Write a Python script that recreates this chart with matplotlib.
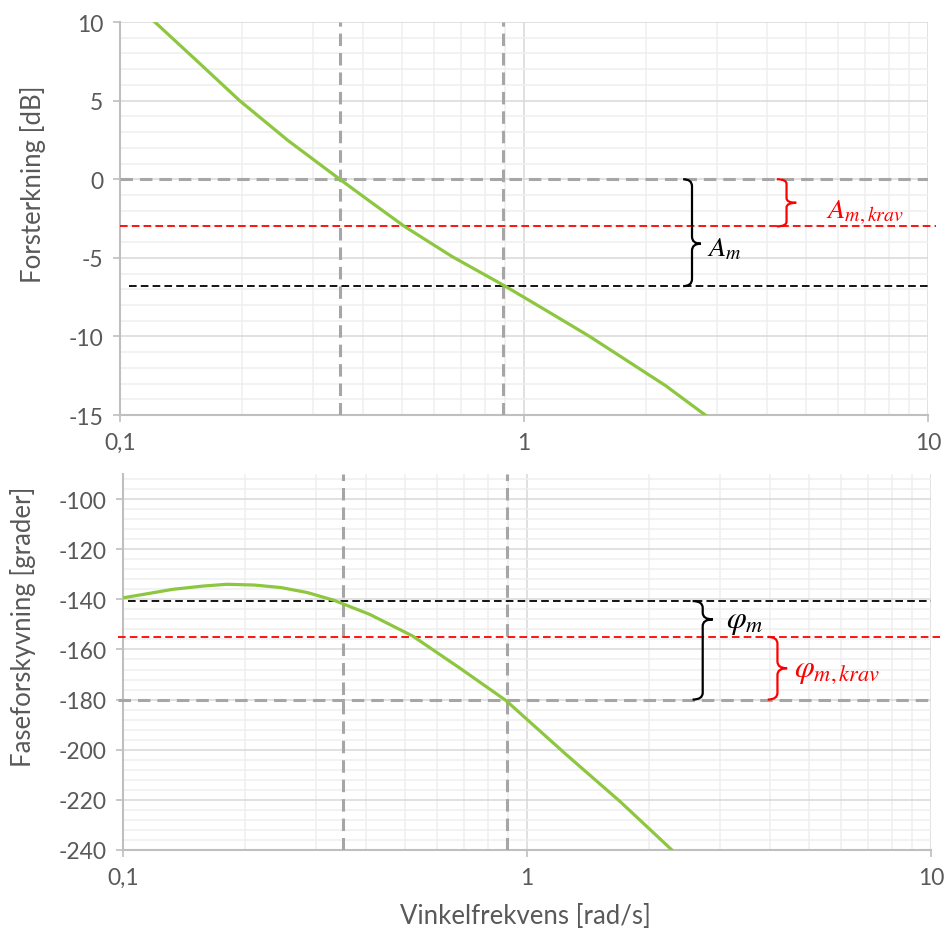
import matplotlib
matplotlib.use("Agg")
import matplotlib.pyplot as plt
from matplotlib.path import Path
from matplotlib.patches import PathPatch
from matplotlib.ticker import FixedLocator, FuncFormatter
import numpy as np

# Values (Bode plot)
w_mag = [0.122, 0.154, 0.198, 0.261, 0.350, 0.423, 0.506, 0.664, 0.894, 1.144, 1.454, 2.241, 2.81]
gain_db = [10.0, 7.6, 4.99, 2.45, 0.0, -1.55, -3.0, -4.92, -6.77, -8.40, -10.0, -13.13, -15.0]

w_phase = [0.100, 0.1165, 0.133, 0.158, 0.181, 0.211, 0.246, 0.286, 0.333, 0.408,
           0.522, 0.680, 0.886, 1.252, 1.701, 2.308]
phase_deg = [-139.4, -137.6, -136.0, -134.7, -134.0, -134.3, -135.3, -137.3, -140.4, -146.0,
             -154.7, -167.3, -180.3, -202.0, -220.7, -240.7]

w_c = 0.35          # gain crossover
w_180 = 0.89        # phase crossover
A_m_line = -6.8     # gain at w_180
A_krav = -3.0
phi_m_line = -140.7  # phase at w_c
phi_krav = -155.0

GREEN = '#8dc63f'
GREY_DASH = '#a6a6a6'
TEXT = '#595959'

plt.rcParams['font.family'] = ['Lato', 'DejaVu Sans']
plt.rcParams['mathtext.fontset'] = 'stix'
plt.rcParams['lines.scale_dashes'] = False

fig = plt.figure(figsize=(9.46, 9.29), dpi=100)
ax1 = fig.add_axes([0.1268, 0.5522, 0.8541, 0.4230])
ax2 = fig.add_axes([0.1300, 0.0840, 0.8541, 0.4047])


def style_axes(ax, ymin, ymax, major, minor):
    ax.set_xscale('log')
    ax.set_xlim(0.1, 10)
    ax.set_ylim(ymin, ymax)
    ax.xaxis.set_major_locator(FixedLocator([0.1, 1, 10]))
    ax.xaxis.set_minor_locator(FixedLocator([k * d for d in (0.1, 1) for k in range(2, 10)]))
    ax.xaxis.set_major_formatter(FuncFormatter(lambda v, p: ('%g' % v).replace('.', ',')))
    ax.yaxis.set_major_locator(FixedLocator(major))
    ax.yaxis.set_minor_locator(FixedLocator(minor))
    ax.yaxis.set_major_formatter(FuncFormatter(lambda v, p: '%d' % v))
    ax.grid(True, which='major', color='#d9d9d9', lw=1.1, zorder=0)
    ax.grid(True, which='minor', color='#efefef', lw=1.1, zorder=0)
    ax.set_axisbelow(True)
    for s in ('top', 'right'):
        ax.spines[s].set_visible(False)
    for s in ('left', 'bottom'):
        ax.spines[s].set_color('#bfbfbf')
        ax.spines[s].set_linewidth(1.5)
    ax.tick_params(which='major', length=5, width=1.2, color='#bfbfbf',
                   labelsize=16.5, labelcolor=TEXT, pad=7)
    ax.tick_params(which='minor', length=0)
    ax.tick_params(axis='x', pad=7)


def brace(ax, x0, width, y_top, y_bot, y_tip, color, curl=0.018):
    ymin, ymax = ax.get_ylim()
    f = lambda y: (y - ymin) / (ymax - ymin)
    yt, yb, ym = f(y_top), f(y_bot), f(y_tip)
    xm = x0 + width / 2
    verts = [(x0, yt), (xm, yt), (xm, yt - curl), (xm, ym + curl),
             (xm, ym), (x0 + width, ym), (xm, ym), (xm, ym - curl),
             (xm, yb + curl), (xm, yb), (x0, yb)]
    codes = [Path.MOVETO, Path.CURVE3, Path.CURVE3, Path.LINETO,
             Path.CURVE3, Path.CURVE3, Path.CURVE3, Path.CURVE3,
             Path.LINETO, Path.CURVE3, Path.CURVE3]
    ax.add_patch(PathPatch(Path(verts, codes), transform=ax.transAxes, fill=False,
                           edgecolor=color, lw=1.6, zorder=6, clip_on=False))


# ---- magnitude ----
style_axes(ax1, -15, 10, np.arange(-15, 11, 5), np.arange(-15, 11, 1))
ax1.plot(w_mag, gain_db, color=GREEN, lw=2.3, zorder=5)
for w in (w_c, w_180):
    ax1.axvline(w, color=GREY_DASH, lw=2.2, dashes=(9, 5), zorder=3)
ax1.plot([0.1, 10], [0, 0], color=GREY_DASH, lw=2.2, dashes=(9, 5), zorder=3)
ax1.plot([0.105, 10], [A_m_line, A_m_line], color='black', lw=1.3, dashes=(5.5, 3), zorder=4)
ax1.plot([0.1, 10.5], [A_krav, A_krav], color='#ff0000', lw=1.3, dashes=(5.5, 3),
         zorder=4, clip_on=False)
brace(ax1, 0.697, 0.022, 0, A_m_line, -4.1, 'black')
brace(ax1, 0.813, 0.024, 0, A_krav, -1.5, '#ff0000', curl=0.012)
ax1.text(0.727, -4.4, r'$A_m$', transform=ax1.get_yaxis_transform(), fontsize=20.5,
         va='center', ha='left', color='black')
ax1.text(0.874, -2.1, r'$A_{m,krav}$', transform=ax1.get_yaxis_transform(), fontsize=20.5,
         va='center', ha='left', color='#ff0000')
ax1.set_ylabel('Forsterkning [dB]', fontsize=18.5, color=TEXT)
ax1.yaxis.set_label_coords(-0.092, 0.59)

# ---- phase ----
style_axes(ax2, -240, -90, np.arange(-240, -99, 20), np.arange(-240, -89, 4))
ax2.plot(w_phase, phase_deg, color=GREEN, lw=2.3, zorder=5)
for w in (w_c, w_180):
    ax2.axvline(w, color=GREY_DASH, lw=2.2, dashes=(9, 5), zorder=3)
ax2.plot([0.097, 10.05], [-180, -180], color=GREY_DASH, lw=2.2, dashes=(9, 5),
         zorder=3, clip_on=False)
ax2.plot([0.103, 10], [phi_m_line, phi_m_line], color='black', lw=1.3, dashes=(5.5, 3), zorder=4)
ax2.plot([0.097, 10.5], [phi_krav, phi_krav], color='#ff0000', lw=1.3, dashes=(5.5, 3),
         zorder=4, clip_on=False)
brace(ax2, 0.705, 0.025, phi_m_line, -180, -148, 'black')
brace(ax2, 0.798, 0.024, phi_krav, -180, -167.5, '#ff0000')
ax2.text(0.746, -148.5, r'$\varphi_m$', transform=ax2.get_yaxis_transform(), fontsize=23,
         va='center', ha='left', color='black')
ax2.text(0.830, -168, r'$\varphi_{m,krav}$', transform=ax2.get_yaxis_transform(), fontsize=23,
         va='center', ha='left', color='#ff0000')
ax2.set_ylabel('Faseforskyvning [grader]', fontsize=18.5, color=TEXT)
ax2.yaxis.set_label_coords(-0.108, 0.597)
ax2.set_xlabel('Vinkelfrekvens [rad/s]', fontsize=18.5, color=TEXT)
ax2.xaxis.set_label_coords(0.498, -0.14)

fig.savefig('out.png', dpi=100)
